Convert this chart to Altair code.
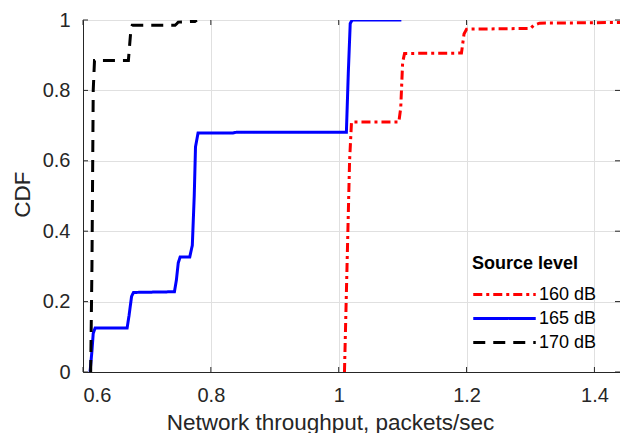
import altair as alt
import pandas as pd

series_names = ["160 dB", "165 dB", "170 dB"]
series_colors = ["#ff0000", "#0000ff", "#000000"]
series_dashes = [[9, 4, 3, 4], [1, 0], [12, 8]]

x160 = [1.009, 1.013, 1.017, 1.020, 1.094, 1.097, 1.100, 1.103, 1.192, 1.196, 1.200, 1.300, 1.305, 1.314, 1.440, 1.447]
y160 = [0.0, 0.3, 0.6, 0.71, 0.71, 0.75, 0.88, 0.905, 0.906, 0.96, 0.974, 0.976, 0.985, 0.991, 0.993, 1.0]

x165 = [0.611, 0.614, 0.616, 0.619, 0.669, 0.672, 0.676, 0.679, 0.743, 0.746, 0.749, 0.752, 0.767, 0.771, 0.774, 0.776, 0.780, 0.834, 0.840, 1.012, 1.015, 1.018, 1.021, 1.098]
y165 = [0.0, 0.06, 0.11, 0.125, 0.125, 0.16, 0.215, 0.226, 0.228, 0.26, 0.31, 0.327, 0.327, 0.36, 0.5, 0.64, 0.679, 0.679, 0.681, 0.681, 0.85, 0.99, 1.0, 1.0]

x170 = [0.612, 0.614, 0.616, 0.618, 0.671, 0.673, 0.675, 0.677, 0.744, 0.747, 0.749, 0.775, 0.778]
y170 = [0.0, 0.3, 0.8, 0.885, 0.885, 0.93, 0.975, 0.985, 0.985, 0.99, 0.994, 0.996, 1.0]

x_ticks = [0.6, 0.8, 1.0, 1.2, 1.4]
y_ticks = [0, 0.2, 0.4, 0.6, 0.8, 1.0]

rows = []
for name, xs, ys in zip(series_names, [x160, x165, x170], [y160, y165, y170]):
    for i, (a, b) in enumerate(zip(xs, ys)):
        rows.append({"level": name, "x": a, "y": b, "order": i})
df = pd.DataFrame(rows)

FONT = "Liberation Sans"
TXT = "#262626"
W, H = 537, 352

xscale = alt.Scale(domain=[0.6, 1.44], nice=False, zero=False)
yscale = alt.Scale(domain=[0, 1], nice=False)

xaxis = alt.Axis(values=x_ticks, format="~g", title="Network throughput, packets/sec",
                 grid=True, gridColor="#e0e0e0", tickSize=0, labelPadding=13,
                 labelOverlap=False, titleX=247, titleY=57,
                 titleBaseline="alphabetic", titleAlign="center")
yaxis = alt.Axis(values=y_ticks, format="~g", title="CDF",
                 grid=True, gridColor="#e0e0e0", tickSize=0, labelPadding=13,
                 labelOverlap=False, titleX=-54, titleY=174,
                 titleBaseline="alphabetic", titleAlign="center")

lines = alt.Chart(df).mark_line(strokeWidth=3, clip=True).encode(
    x=alt.X("x:Q", scale=xscale, axis=xaxis),
    y=alt.Y("y:Q", scale=yscale, axis=yaxis),
    color=alt.Color("level:N", scale=alt.Scale(domain=series_names, range=series_colors),
                    legend=alt.Legend(title="Source level", orient="none", legendX=389, legendY=235,
                                      padding=0, symbolType="M-2.84,0H2.84",
                                      symbolSize=484, symbolStrokeWidth=3, symbolOffset=20,
                                      labelOffset=22, titlePadding=9, rowPadding=2)),
    strokeDash=alt.StrokeDash("level:N", scale=alt.Scale(domain=series_names, range=series_dashes),
                              legend=alt.Legend(title="Source level")),
    order="order:Q",
)

tick_x = pd.DataFrame({"x": x_ticks})
tick_y = pd.DataFrame({"y": y_ticks})
tick_style = dict(color=TXT, strokeWidth=1)

bottom_ticks = alt.Chart(tick_x).mark_rule(**tick_style).encode(
    x=alt.X("x:Q", scale=xscale, axis=xaxis), y=alt.value(H), y2=alt.value(H - 5))
top_ticks = alt.Chart(tick_x).mark_rule(**tick_style).encode(
    x=alt.X("x:Q", scale=xscale, axis=xaxis), y=alt.value(0), y2=alt.value(5))
left_ticks = alt.Chart(tick_y).mark_rule(**tick_style).encode(
    y=alt.Y("y:Q", scale=yscale, axis=yaxis), x=alt.value(0), x2=alt.value(5))
right_ticks = alt.Chart(tick_y).mark_rule(**tick_style).encode(
    y=alt.Y("y:Q", scale=yscale, axis=yaxis), x=alt.value(W), x2=alt.value(W - 5))

chart = alt.layer(lines, bottom_ticks, top_ticks, left_ticks, right_ticks).properties(
    width=W, height=H,
    autosize=alt.AutoSizeParams(type="none"),
    padding={"left": 75, "top": 12, "right": 0, "bottom": 61},
).configure(font=FONT).configure_view(
    stroke=TXT, strokeWidth=1
).configure_axis(
    labelFont=FONT, titleFont=FONT, labelFontSize=20, titleFontSize=22.5,
    labelColor=TXT, titleColor=TXT, titleFontWeight="normal",
    domainColor=TXT, domainWidth=1,
).configure_legend(
    titleFont=FONT, labelFont=FONT, titleFontSize=18, labelFontSize=18,
    titleColor="#000000", labelColor="#000000", titleFontWeight="bold",
)

chart.save("out.html", embed_options={"renderer": "svg", "actions": False})
